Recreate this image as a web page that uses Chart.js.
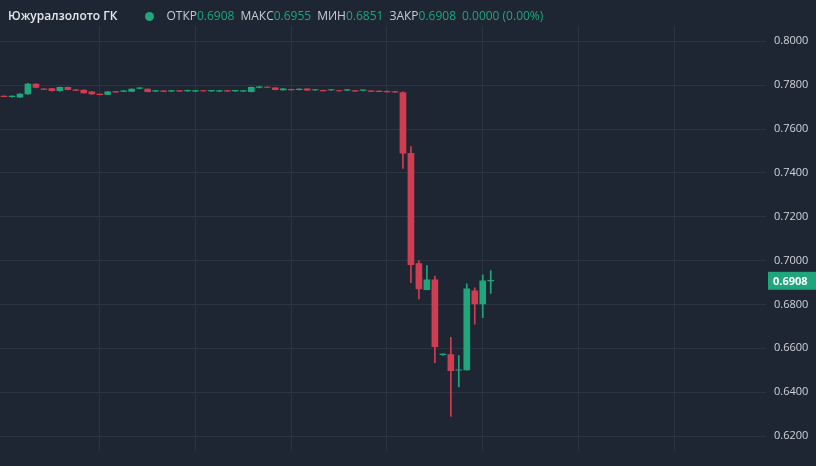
<!DOCTYPE html>
<html><head><meta charset="utf-8">
<script src="https://cdn.jsdelivr.net/npm/chart.js@4/dist/chart.umd.min.js"></script>
<style>
html,body{margin:0;padding:0;background:#1e2633;}
#wrap{position:relative;width:816px;height:466px;}
#hdr{position:absolute;left:8px;top:7px;font-family:"Open Sans",Arial,sans-serif;font-size:12px;color:#d1d4dc;white-space:nowrap;}
#hdr b{font-weight:600;color:#e6e8ec}
.l{color:#c8cbd2}.v{color:#1fa67a;margin-right:6px}
.dot{display:inline-block;width:9px;height:9px;border-radius:50%;background:#1fa67a;margin:0 12px 0 28px;vertical-align:-1px}
</style></head><body>
<div id="wrap"><canvas id="c" width="816" height="466"></canvas>
<div id="hdr"><b>Южуралзолото ГК</b><span class="dot"></span><span class="l">ОТКР</span><span class="v">0.6908</span><span class="l">МАКС</span><span class="v">0.6955</span><span class="l">МИН</span><span class="v">0.6851</span><span class="l">ЗАКР</span><span class="v">0.6908</span><span class="v">0.0000 (0.00%)</span></div>
</div>
<script>
const opens = [0.7750,0.7748,0.7745,0.7760,0.7805,0.7783,0.7785,0.7775,0.7790,0.7779,0.7778,0.7770,0.7759,0.7758,0.7771,0.7772,0.7772,0.7785,0.7782,0.7773,0.7774,0.7773,0.7775,0.7774,0.7773,0.7776,0.7774,0.7773,0.7775,0.7774,0.7773,0.7770,0.7790,0.7792,0.7788,0.7778,0.7781,0.7780,0.7783,0.7778,0.7777,0.7778,0.7776,0.7777,0.7775,0.7776,0.7774,0.7773,0.7772,0.7771,
0.7766,0.7489,0.6986,0.6868,0.6912,0.6571,0.6571,0.6500,0.6502,0.6862,0.6802,0.6908];
const closes = [0.7749,0.7749,0.7760,0.7805,0.7790,0.7781,0.7775,0.7790,0.7780,0.7778,0.7765,0.7760,0.7758,0.7770,0.7770,0.7773,0.7782,0.7786,0.7770,0.7774,0.7773,0.7774,0.7774,0.7775,0.7774,0.7775,0.7775,0.7774,0.7774,0.7775,0.7774,0.7790,0.7791,0.7791,0.7780,0.7784,0.7780,0.7781,0.7777,0.7779,0.7776,0.7779,0.7775,0.7778,0.7774,0.7776,0.7773,0.7772,0.7771,0.7770,
0.7490,0.6982,0.6871,0.6912,0.6608,0.6571,0.6498,0.6501,0.6871,0.6802,0.6908,0.6908];
const highs = [0.7751,0.7752,0.7762,0.7808,0.7806,0.7784,0.7786,0.7791,0.7791,0.7780,0.7779,0.7771,0.7760,0.7771,0.7772,0.7776,0.7783,0.7788,0.7783,0.7776,0.7776,0.7777,0.7776,0.7778,0.7776,0.7777,0.7777,0.7776,0.7777,0.7777,0.7776,0.7791,0.7795,0.7793,0.7789,0.7785,0.7782,0.7783,0.7784,0.7780,0.7778,0.7780,0.7777,0.7779,0.7776,0.7778,0.7775,0.7774,0.7774,0.7772,
0.7770,0.7520,0.7000,0.6977,0.6930,0.6575,0.6650,0.6567,0.6894,0.6876,0.6935,0.6955];
const lows = [0.7748,0.7746,0.7744,0.7758,0.7788,0.7780,0.7773,0.7773,0.7779,0.7776,0.7764,0.7758,0.7756,0.7757,0.7768,0.7770,0.7771,0.7783,0.7769,0.7771,0.7771,0.7772,0.7772,0.7772,0.7771,0.7773,0.7772,0.7771,0.7772,0.7772,0.7771,0.7769,0.7788,0.7789,0.7779,0.7777,0.7778,0.7778,0.7776,0.7776,0.7774,0.7776,0.7773,0.7775,0.7772,0.7774,0.7771,0.7770,0.7769,0.7768,
0.7420,0.6900,0.6825,0.6866,0.6535,0.6568,0.6290,0.6424,0.6500,0.6710,0.6740,0.6851];
const TOTAL = 96;
const labels = Array.from({length:TOTAL},(_,i)=>String(i));
const yTicks = [0.62,0.64,0.66,0.68,0.70,0.72,0.74,0.76,0.78,0.80];
const lastPrice = 0.6908;
const UP='#1fa67a', DN='#d23c50';
const pad = a => a.concat(Array(TOTAL-a.length).fill(null));
const bodies = pad(opens.map((o,i)=>{let c=closes[i]; if(Math.abs(c-o)<0.00025){c=o+0.00025*(c>=o?1:-1);} return [o,c];}));
const wicks = pad(lows.map((l,i)=>[l,highs[i]]));
const col = pad(opens.map((o,i)=>closes[i]>=o?UP:DN));
const priceTag = {id:'tag',afterDraw(ch){const y=ch.scales.y, ctx=ch.ctx, py=y.getPixelForValue(lastPrice);
 ctx.fillStyle=UP; ctx.fillRect(y.left+2,py-9,y.right-y.left-2,18);
 ctx.fillStyle='#fff'; ctx.font='bold 11px "Open Sans"'; ctx.textBaseline='middle'; ctx.fillText(lastPrice.toFixed(4),y.left+7,py+1);}};
new Chart(document.getElementById('c'),{
 type:'bar',
 data:{labels,datasets:[
  {data:wicks,backgroundColor:col,barThickness:1,grouped:false,order:2},
  {data:bodies,backgroundColor:col,barThickness:6,grouped:false,order:1}]},
 options:{responsive:false,animation:false,
  layout:{padding:{top:26,bottom:4,left:0,right:0}},
  plugins:{legend:{display:false},tooltip:{enabled:false}},
  scales:{
   x:{offset:true,grid:{offset:false,color:(c)=>c.index%12===0&&c.index>0?'#2a3442':'rgba(0,0,0,0)',drawTicks:false},border:{display:false},ticks:{display:false,autoSkip:false}},
   y:{position:'right',min:0.613,max:0.807,afterBuildTicks:(s)=>{s.ticks=yTicks.map(v=>({value:v}));},
      grid:{color:'#2a3442',drawTicks:false},border:{display:false},
      ticks:{color:'#d1d4dc',font:{family:'Open Sans',size:11},padding:8,callback:v=>v.toFixed(4)},afterFit:(s)=>{s.width=50;}}
  }},
 plugins:[priceTag]
});
</script></body></html>
